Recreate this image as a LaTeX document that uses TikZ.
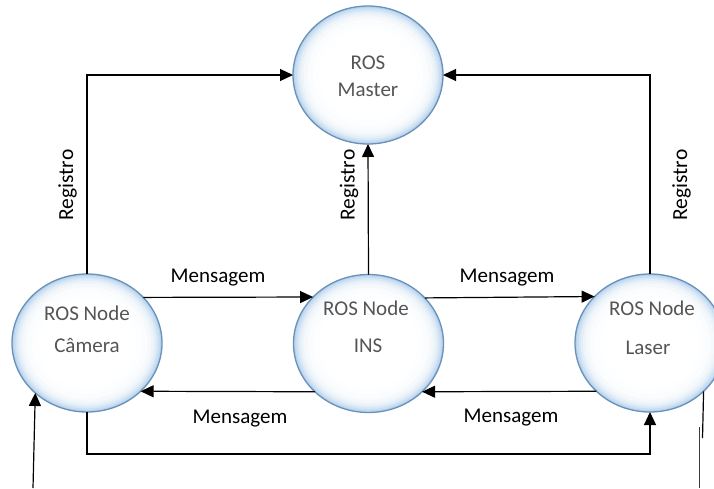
\documentclass[tikz,border=0pt]{standalone}
\usepackage{fontspec}
\setmainfont{Carlito}
\usetikzlibrary{arrows.meta,shapes.geometric}
\definecolor{ballblue}{RGB}{182,210,236}
\definecolor{ballborder}{RGB}{105,145,185}
\definecolor{nodetext}{RGB}{85,85,85}
\definecolor{linegray}{RGB}{60,60,60}
\begin{document}
\begin{tikzpicture}[x=1pt,y=-1pt,
  rosnode/.style={ellipse, draw=ballborder, line width=1.3pt, fill=ballblue,
    minimum width=150pt, minimum height=138pt, inner sep=0pt, outer sep=0pt,
    path picture={
      \foreach \f/\c in {0.975/75,0.95/55,0.925/38,0.895/24,0.86/13,0.81/6,0.74/2,0.66/0}
        \fill[ballblue!\c!white] (path picture bounding box.center)
          ellipse [x radius=\f*75pt, y radius=\f*69pt];
    }},
  nodetxt/.style={anchor=base, text=nodetext, font=\fontsize{21}{25}\selectfont, inner sep=0pt},
  lbl/.style={anchor=base, font=\fontsize{21}{25}\selectfont, inner sep=0pt},
  reg/.style={anchor=base, rotate=90, font=\fontsize{21.5}{25}\selectfont, inner sep=0pt},
  conn/.style={line width=1.2pt, draw=black, -{Triangle[length=13pt,width=12pt]}},
  plainline/.style={line width=1.2pt, draw=black},
  grayline/.style={line width=1.2pt, draw=linegray}]
\useasboundingbox (0,0) rectangle (714,488);
\clip (0,0) rectangle (714,488);

% nodes
\node[rosnode] (master) at (368,75) {};
\node[rosnode] (cam) at (87,343) {};
\node[rosnode] (ins) at (368.5,343.5) {};
\node[rosnode] (laser) at (650,343) {};

% node texts
\node[nodetxt] (mt1) at (368,69) {ROS};
\node[nodetxt] (mt2) at (368,96) {Master};
\node[nodetxt] (ct1) at (87,320) {ROS Node};
\node[nodetxt] (ct2) at (87,352) {Câmera};
\node[nodetxt] (it1) at (366,315) {ROS Node};
\node[nodetxt] (it2) at (368,352) {INS};
\node[nodetxt] (lt1) at (652,315) {ROS Node};
\node[nodetxt] (lt2) at (648,354) {Laser};

% registration connectors
\draw[conn] (cam.north) |- (master.west);
\draw[conn] (laser.north) |- (master.east);
\draw[conn] (ins.north) -- (master.south);

% message connectors
\draw[conn] (cam.39.45) -- (ins.140.55);
\draw[conn] (ins.39.45) -- (laser.140.55);
\draw[conn] (ins.222.86) -- (cam.-42.86);
\draw[conn] (laser.222.86) -- (ins.-42.86);
\draw[conn] (cam.south) -- ++(0,42) -| (laser.south);

% external lines
\coordinate (inL) at (33,488);
\draw[conn] (inL) -- (cam.224);
\coordinate (outA) at (702.5,438);
\draw[plainline] (laser.-42.86) -- (outA);
\coordinate (outB1) at (699.5,427);
\coordinate (outB2) at (699.5,488);
\draw[grayline] (outB1) -- (outB2);

% labels
\node[reg] (r1) at (73,185) {Registro};
\node[reg] (r2) at (354.5,185) {Registro};
\node[reg] (r3) at (687,185) {Registro};
\node[lbl] (m1) at (218,282) {Mensagem};
\node[lbl] (m2) at (507,282) {Mensagem};
\node[lbl] (m3) at (240,423) {Mensagem};
\node[lbl] (m4) at (511,422) {Mensagem};
\end{tikzpicture}
\end{document}
